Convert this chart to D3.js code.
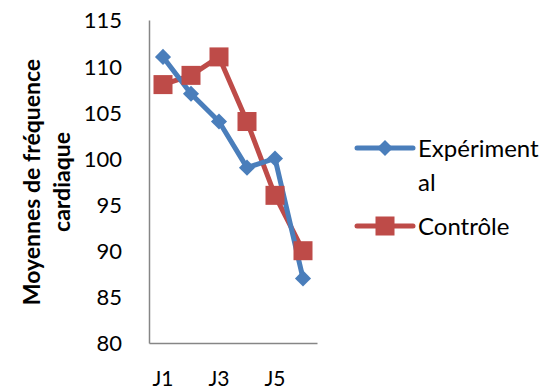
<!DOCTYPE html>
<html><head><meta charset="utf-8">
<script src="https://cdn.jsdelivr.net/npm/d3@7"></script>
<style>body{margin:0;background:#fff}svg{display:block}text{font-family:Lato,"Open Sans",sans-serif}</style>
</head><body>
<svg id="c" width="548" height="390"></svg>
<script>
const categories = ["J1","J2","J3","J4","J5","J6"];
const shownLabels = ["J1","J3","J5"];
const experimental = [111,107,104,99,100,87];
const controle = [108,109,111,104,96,90];
const yTicks = [80,85,90,95,100,105,110,115];
const seriesNames = ["Expériment", "Contrôle"];

const svg = d3.select("#c");
const x = d3.scaleBand().domain(categories).range([149,317]);
const y = d3.scaleLinear().domain([80,115]).range([343,20]);
const blue = "#4A7EBB", red = "#BE4B48";
const axisCol = "#868686";

// y axis
const ya = svg.append("g").attr("transform","translate(149,0)").call(d3.axisLeft(y).tickValues(yTicks).tickSize(0).tickPadding(27));
ya.select(".domain").attr("stroke",axisCol).attr("stroke-width",1.5);
ya.selectAll("text").attr("font-size",22).attr("fill","#000").attr("dy","0.36em");
// x axis
const xa = svg.append("g").attr("transform","translate(0,343)").call(d3.axisBottom(x).tickSize(0).tickPadding(28).tickFormat(d=>shownLabels.includes(d)?d:""));
xa.select(".domain").attr("stroke",axisCol).attr("stroke-width",1.5);
xa.selectAll("text").attr("font-size",21).attr("fill","#000");

// y title
const tt = svg.append("text").attr("transform","translate(32,182) rotate(-90)").attr("text-anchor","middle")
  .attr("font-weight","bold").attr("font-size",23).attr("fill","#000");
tt.append("tspan").attr("x",0).attr("dy","0.35em").text("Moyennes de fréquence");
tt.append("tspan").attr("x",0).attr("dy","1.3em").text("cardiaque");

const cx = d => x(d) + x.bandwidth()/2;
const line = d3.line().x((d,i)=>cx(categories[i])).y(d=>y(d));

svg.append("path").datum(controle).attr("d",line).attr("fill","none").attr("stroke",red).attr("stroke-width",5).attr("stroke-linejoin","round");
svg.append("path").datum(experimental).attr("d",line).attr("fill","none").attr("stroke",blue).attr("stroke-width",5).attr("stroke-linejoin","round");

const diamond = d3.symbol().type(d3.symbolDiamond2).size(165);
svg.selectAll(".mb").data(experimental).join("path").attr("d",diamond)
  .attr("transform",(d,i)=>`translate(${cx(categories[i])},${y(d)})`).attr("fill",blue);
svg.selectAll(".mr").data(controle).join("rect")
  .attr("x",(d,i)=>cx(categories[i])-9.5).attr("y",d=>y(d)-9.5).attr("width",19).attr("height",19).attr("fill",red);

// legend
const lg = svg.append("g");
lg.append("line").attr("x1",357).attr("x2",413).attr("y1",148).attr("y2",148).attr("stroke",blue).attr("stroke-width",5).attr("stroke-linecap","round");
lg.append("path").attr("d",diamond).attr("transform","translate(385,148)").attr("fill",blue);
lg.append("text").attr("x",418).attr("y",148).attr("dy","0.36em").attr("font-size",24).text(seriesNames[0]);
lg.append("text").attr("x",418).attr("y",182).attr("dy","0.36em").attr("font-size",24).text("al");
lg.append("line").attr("x1",357).attr("x2",413).attr("y1",226).attr("y2",226).attr("stroke",red).attr("stroke-width",5).attr("stroke-linecap","round");
lg.append("rect").attr("x",375.5).attr("y",216.5).attr("width",19).attr("height",19).attr("fill",red);
lg.append("text").attr("x",418).attr("y",226).attr("dy","0.36em").attr("font-size",24).text(seriesNames[1]);
</script>
</body></html>
